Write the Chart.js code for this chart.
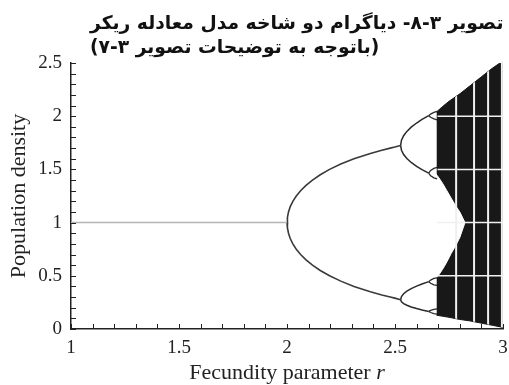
<!DOCTYPE html>
<html>
<head>
<meta charset="utf-8">
<script src="https://cdn.jsdelivr.net/npm/chart.js@4.4.1/dist/chart.umd.min.js"></script>
<style>
  html, body { margin: 0; padding: 0; background: #fff; }
</style>
</head>
<body>
<canvas id="bifurcation" width="509" height="385"></canvas>
<script>
// caption words in reading order (right to left on screen)
const titleLine1 = ["تصویر", "۳-۸-", "دیاگرام", "دو", "شاخه", "مدل", "معادله", "ریکر"];
const titleLine2 = ["(باتوجه", "به", "توضیحات", "تصویر", "۳-۷)"];

const xTicks = [1, 1.5, 2, 2.5, 3];
const yTicks = [0, 0.5, 1, 1.5, 2, 2.5];

// stable equilibrium
const fixedR = [1, 2];
const fixedN = [1, 1];

// two-cycle
const p2R = [2, 2.002, 2.007, 2.015, 2.027, 2.043, 2.063, 2.088, 2.118, 2.154, 2.197, 2.249, 2.31, 2.386, 2.439, 2.478, 2.499, 2.526];
const p2Up = [1, 1.05, 1.1, 1.15, 1.2, 1.25, 1.3, 1.35, 1.4, 1.45, 1.5, 1.55, 1.6, 1.65, 1.68, 1.7, 1.71, 1.725];
const p2Lo = [1, 0.95, 0.9, 0.85, 0.8, 0.75, 0.7, 0.65, 0.6, 0.55, 0.5, 0.45, 0.4, 0.35, 0.32, 0.3, 0.29, 0.275];

// four-cycle
const p4R = [2.526, 2.53, 2.54, 2.555, 2.575, 2.6, 2.625, 2.656];
const p4UU = [1.725, 1.774, 1.817, 1.857, 1.897, 1.936, 1.97, 2.005];
const p4UL = [1.725, 1.68, 1.64, 1.602, 1.565, 1.529, 1.498, 1.465];
const p4LU = [0.275, 0.305, 0.331, 0.355, 0.379, 0.403, 0.423, 0.445];
const p4LL = [0.275, 0.256, 0.239, 0.223, 0.207, 0.192, 0.179, 0.165];

// eight-cycle forks
const p8R = [2.656, 2.665, 2.68, 2.695];
const p8 = [
  [2.005, 2.02, 2.035, 2.045], [2.005, 1.99, 1.975, 1.965],
  [1.465, 1.49, 1.51, 1.52], [1.465, 1.44, 1.42, 1.41],
  [0.445, 0.46, 0.475, 0.48], [0.445, 0.43, 0.415, 0.41],
  [0.165, 0.175, 0.185, 0.19], [0.165, 0.155, 0.145, 0.14],
];

// chaotic band envelope
const chaosR = [2.692, 2.72, 2.75, 2.8, 2.85, 2.9, 2.95, 3.0];
const chaosTop = [2.04, 2.09, 2.14, 2.21, 2.29, 2.37, 2.45, 2.52];
const chaosBottom = [0.13, 0.12, 0.11, 0.09, 0.075, 0.055, 0.035, 0.015];

// white gap between the two bands before they merge
const gapR = [2.684, 2.7, 2.72, 2.74, 2.76, 2.78, 2.8, 2.824];
const gapUpper = [1.47, 1.43, 1.37, 1.3, 1.23, 1.16, 1.1, 1.0];
const gapLower = [0.475, 0.5, 0.56, 0.63, 0.71, 0.78, 0.86, 1.0];

// periodic windows inside chaos, and white grid levels
const windowR = [2.783, 2.866, 2.931, 2.995];
const whiteGridN = [0.5, 1, 1.5, 2];

const SERIF = "'Liberation Serif', 'Times New Roman', serif";
const INK = "#222";
const BAND = "#181818";

const pts = (rs, ys) => rs.map((r, i) => ({ x: r, y: ys[i] }));

const line = (data, color, width) => ({
  data,
  borderColor: color,
  borderWidth: width,
  pointRadius: 0,
  tension: 0,
  fill: false,
  order: 1,
});

const area = (data, fill, color, order) => ({
  data,
  borderWidth: 1,
  borderColor: color,
  backgroundColor: color,
  pointRadius: 0,
  tension: 0,
  fill,
  order,
});

const datasets = [
  area(pts(chaosR, chaosTop), "+1", BAND, 10),
  area(pts(chaosR, chaosBottom), false, BAND, 10),
  area(pts(gapR, gapUpper), "+1", "#ffffff", 9),
  area(pts(gapR, gapLower), false, "#ffffff", 9),
  line(pts(fixedR, fixedN), "#b4b4b4", 1.5),
  line(pts(p2R, p2Up), "#3a3a3a", 1.6),
  line(pts(p2R, p2Lo), "#3a3a3a", 1.6),
  line(pts(p4R, p4UU), "#2a2a2a", 1.5),
  line(pts(p4R, p4UL), "#2a2a2a", 1.5),
  line(pts(p4R, p4LU), "#2a2a2a", 1.5),
  line(pts(p4R, p4LL), "#2a2a2a", 1.5),
  ...p8.map((ys) => line(pts(p8R, ys), "#2a2a2a", 1.3)),
];

const inwardTicks = {
  id: "inwardTicks",
  afterDraw(chart) {
    const { ctx, chartArea: a, scales: { x, y } } = chart;
    ctx.save();
    ctx.strokeStyle = INK;
    ctx.lineWidth = 1;
    ctx.beginPath();
    for (let i = 0; i <= 20; i++) {
      const px = Math.round(x.getPixelForValue(1 + i / 10)) + 0.5;
      ctx.moveTo(px, a.bottom);
      ctx.lineTo(px, a.bottom - 5);
    }
    for (let i = 0; i <= 25; i++) {
      const py = Math.round(y.getPixelForValue(i / 10)) + 0.5;
      ctx.moveTo(a.left, py);
      ctx.lineTo(a.left + 5, py);
    }
    ctx.stroke();
    ctx.restore();
  },
};

// white grid levels and periodic windows only show inside the chaotic band
const whiteMarks = {
  id: "whiteMarks",
  afterDatasetsDraw(chart) {
    const { ctx, scales: { x, y } } = chart;
    ctx.save();
    ctx.beginPath();
    chaosR.forEach((r, i) => {
      const px = x.getPixelForValue(r), py = y.getPixelForValue(chaosTop[i]);
      i ? ctx.lineTo(px, py) : ctx.moveTo(px, py);
    });
    for (let i = chaosR.length - 1; i >= 0; i--) {
      ctx.lineTo(x.getPixelForValue(chaosR[i]), y.getPixelForValue(chaosBottom[i]));
    }
    ctx.closePath();
    ctx.clip();

    ctx.strokeStyle = "#f0f0f0";
    ctx.lineWidth = 1.5;
    whiteGridN.forEach((v) => {
      const py = y.getPixelForValue(v);
      ctx.beginPath();
      ctx.moveTo(x.getPixelForValue(chaosR[0]) + 1, py);
      ctx.lineTo(x.getPixelForValue(chaosR[chaosR.length - 1]), py);
      ctx.stroke();
    });
    ctx.lineWidth = 2;
    windowR.forEach((r) => {
      const px = x.getPixelForValue(r);
      ctx.beginPath();
      ctx.moveTo(px, y.getPixelForValue(2.6));
      ctx.lineTo(px, y.getPixelForValue(0));
      ctx.stroke();
    });
    ctx.restore();
  },
};

// keep "۳-۸" style numbers in right-to-left digit order, like the caption
const RLM = "\u200F";
const captionText = (words) => words.map((w) => w.replace(/-/g, RLM + "-" + RLM)).join(" ");

const texts = {
  id: "texts",
  afterDraw(chart) {
    const { ctx, chartArea: a } = chart;
    ctx.save();
    ctx.direction = "rtl";
    ctx.textAlign = "left";
    ctx.textBaseline = "alphabetic";
    ctx.fillStyle = "#111";
    const l1 = captionText(titleLine1);
    const l2 = captionText(titleLine2);
    ctx.font = "bold 20px 'DejaVu Sans', sans-serif";
    const size = Math.min(20, 20 * 414 / ctx.measureText(l1).width);
    ctx.font = `bold ${size.toFixed(2)}px 'DejaVu Sans', sans-serif`;
    ctx.fillText(l1, 90, 29);
    ctx.fillText(l2, 90, 53);
    ctx.restore();

    // x axis title with an italic r
    ctx.save();
    ctx.direction = "ltr";
    ctx.textAlign = "left";
    ctx.textBaseline = "alphabetic";
    const head = "Fecundity parameter ";
    ctx.fillStyle = INK;
    ctx.font = `22px ${SERIF}`;
    const w1 = ctx.measureText(head).width;
    ctx.font = `italic 22px ${SERIF}`;
    const w2 = ctx.measureText("r").width;
    const x0 = (a.left + a.right) / 2 - (w1 + w2) / 2;
    ctx.font = `22px ${SERIF}`;
    ctx.fillText(head, x0, 379);
    ctx.font = `italic 22px ${SERIF}`;
    ctx.fillText("r", x0 + w1, 379);
    ctx.restore();
  },
};

new Chart(document.getElementById("bifurcation"), {
  type: "line",
  data: { datasets },
  options: {
    responsive: false,
    animation: false,
    events: [],
    layout: { padding: { top: 63, right: 6, left: 0, bottom: 0 } },
    plugins: { legend: { display: false }, tooltip: { enabled: false } },
    scales: {
      x: {
        type: "linear",
        min: 1,
        max: 3,
        afterBuildTicks: (s) => { s.ticks = xTicks.map((v) => ({ value: v })); },
        afterFit: (s) => { s.height = 56; s.paddingLeft = 0; s.paddingRight = 0; },
        grid: { display: false, drawTicks: false },
        border: { display: true, color: INK, width: 1.5 },
        ticks: {
          color: INK,
          padding: 8,
          maxRotation: 0,
          font: { family: SERIF, size: 19 },
          callback: (v) => String(v),
        },
      },
      y: {
        type: "linear",
        min: 0,
        max: 2.5,
        afterBuildTicks: (s) => { s.ticks = yTicks.map((v) => ({ value: v })); },
        afterFit: (s) => { s.width = 71; },
        grid: { display: false, drawTicks: false },
        border: { display: true, color: INK, width: 1.5 },
        ticks: {
          color: INK,
          padding: 9,
          font: { family: SERIF, size: 19 },
          callback: (v) => String(v),
        },
        title: {
          display: true,
          text: "Population density",
          color: INK,
          padding: { top: 6, bottom: 0 },
          font: { family: SERIF, size: 22, weight: "normal" },
        },
      },
    },
  },
  plugins: [whiteMarks, inwardTicks, texts],
});
</script>
</body>
</html>
